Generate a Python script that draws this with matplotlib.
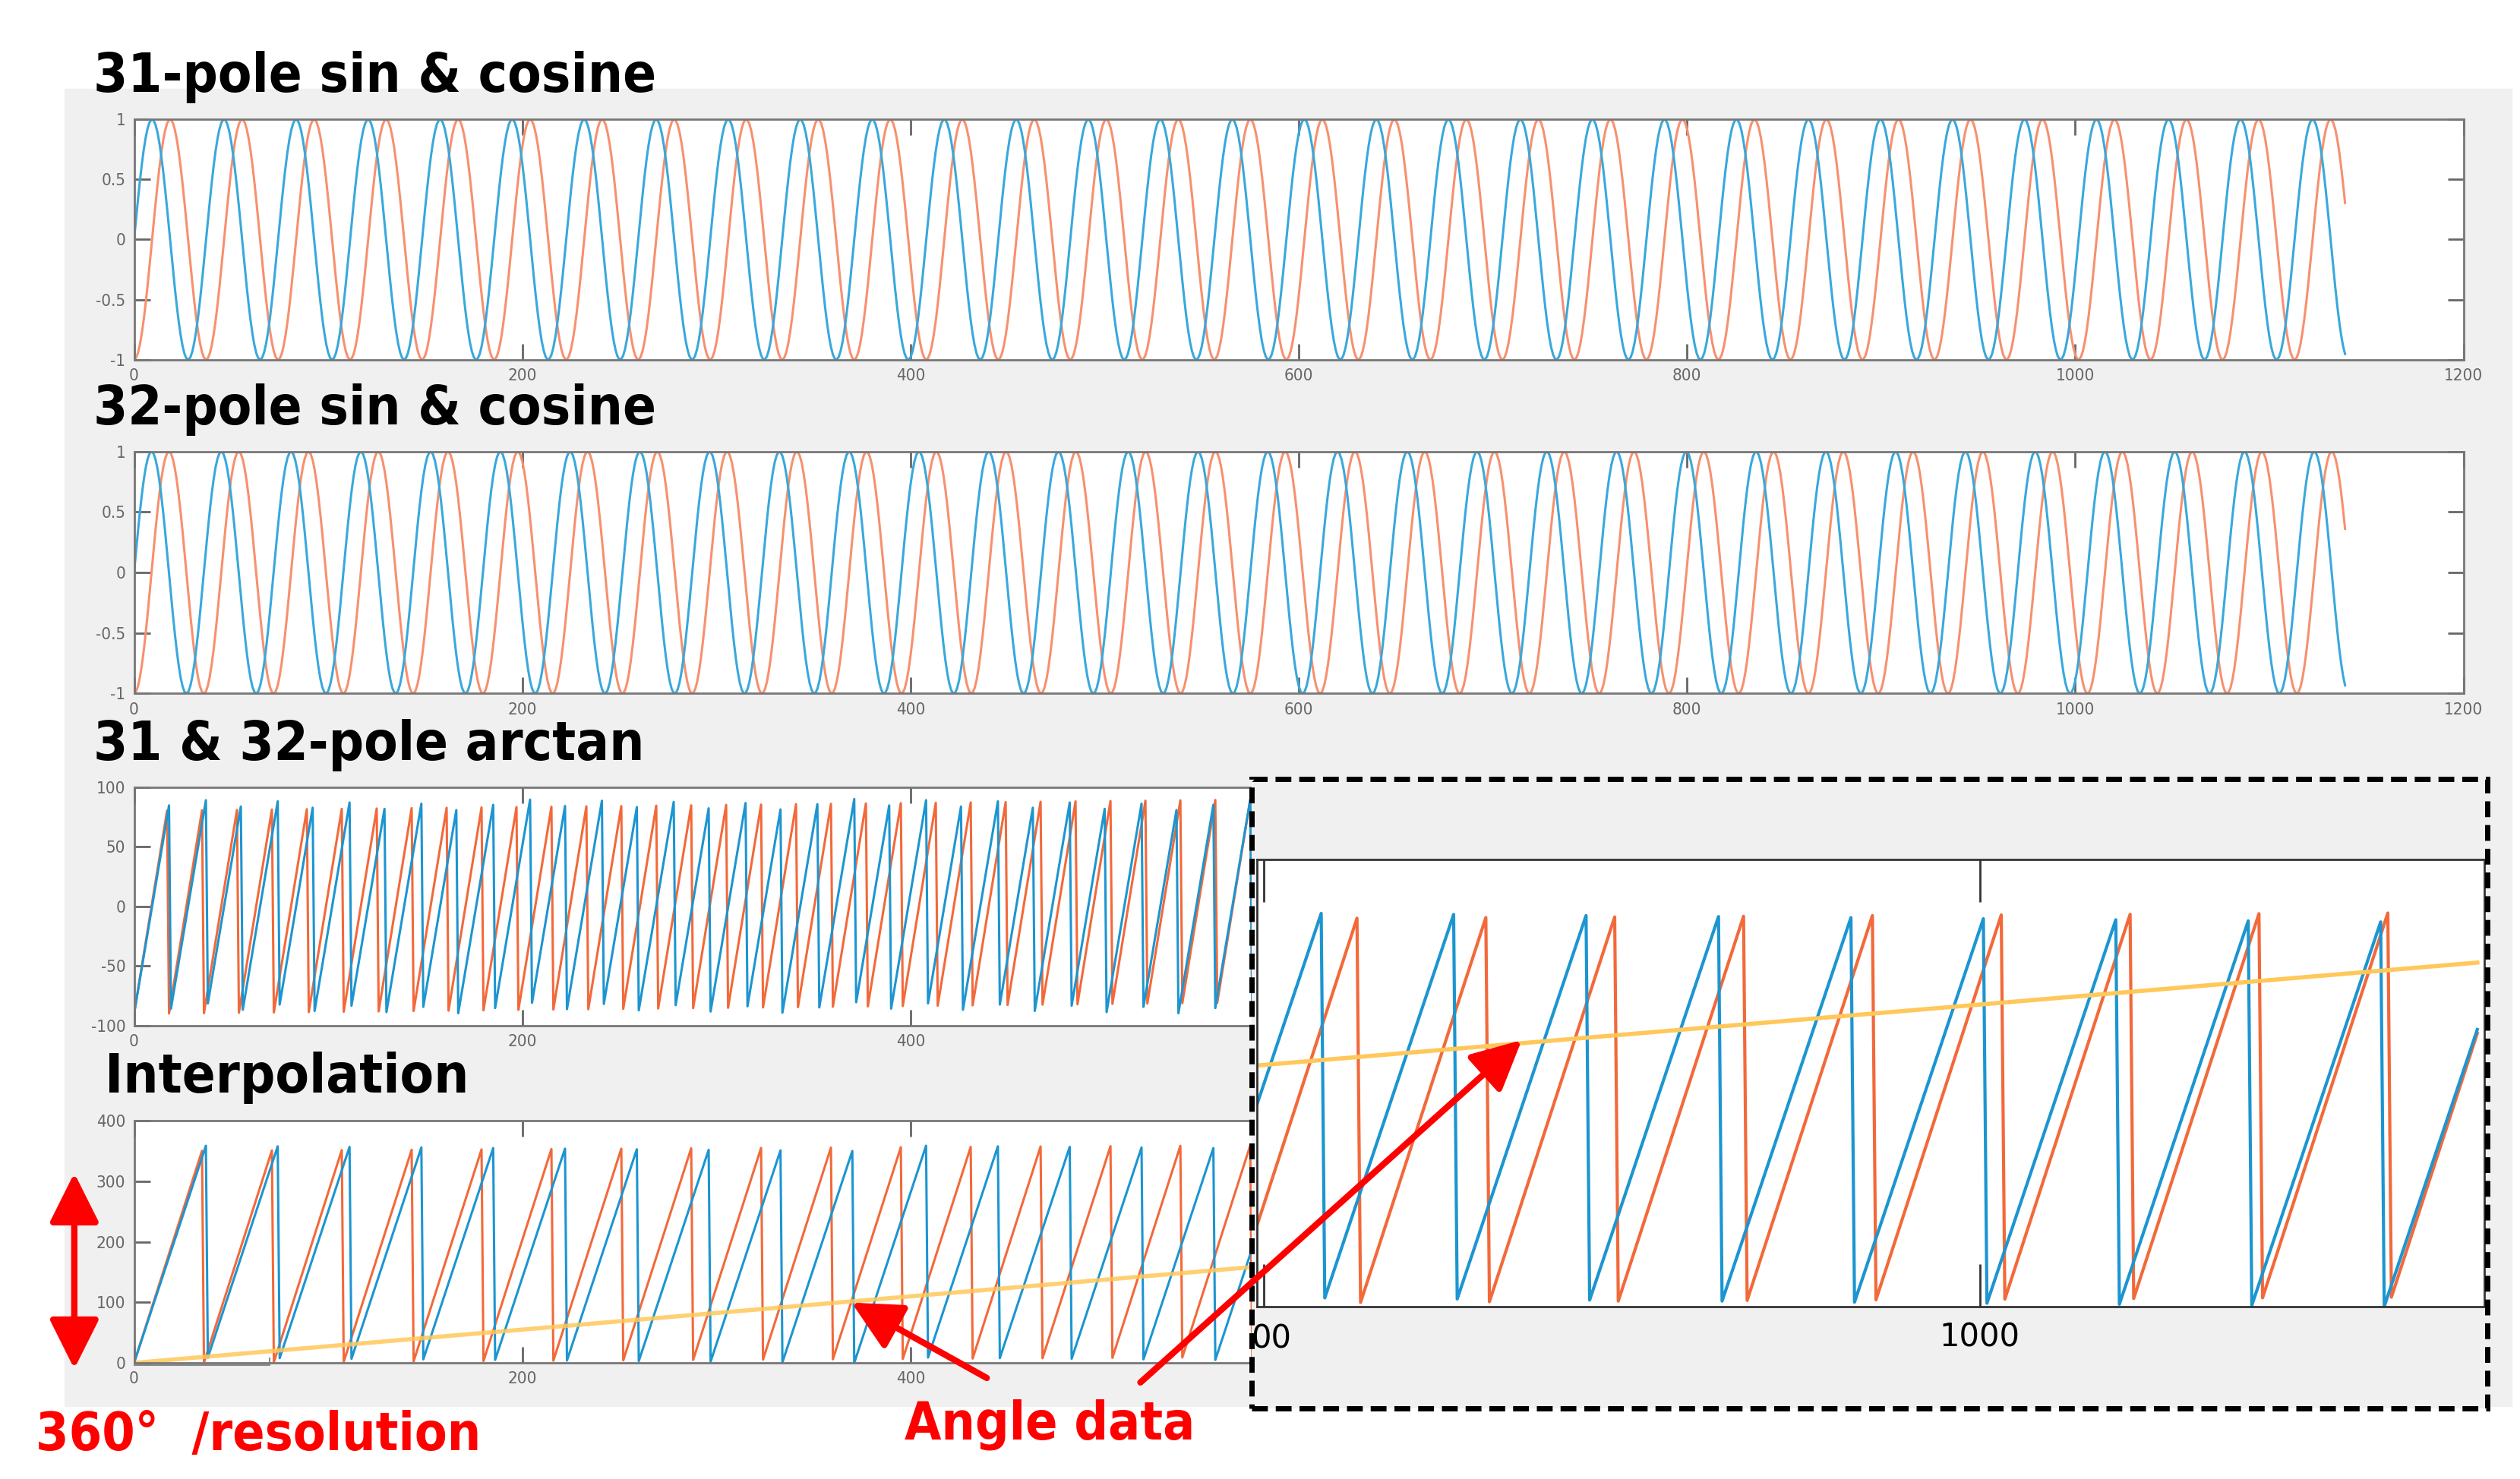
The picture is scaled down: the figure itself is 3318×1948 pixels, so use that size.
import numpy as np
import matplotlib
matplotlib.use('Agg')
import matplotlib.pyplot as plt
from matplotlib.patches import Rectangle, FancyArrowPatch

# ---- data (signal parameters) ----
n_samples = 1140          # samples recorded
period_31 = 37.1          # samples per electrical cycle, 31-pole track
period_32 = 37.1 * 31 / 32  # 32-pole track
angle_slope = 0.275       # mechanical angle (deg) per sample
x_ticks = [0, 200, 400, 600, 800, 1000, 1200]
sin_ticks = [-1, -0.5, 0, 0.5, 1]
atan_ticks = [-100, -50, 0, 50, 100]
interp_ticks = [0, 100, 200, 300, 400]
inset_xlim = (798, 1141)
inset_ylim = (0, 407)

titles = ['31-pole sin & cosine', '32-pole sin & cosine',
          '31 & 32-pole arctan', 'Interpolation']

BLUE_L, ORANGE_L = '#39a8dc', '#f7906e'
BLUE, ORANGE = '#1c95d0', '#f2693a'
YELLOW = '#ffc85a'
NARROW = ['Liberation Sans Narrow', 'DejaVu Sans']

x = np.arange(n_samples)
ph31 = 2 * np.pi * x / period_31
ph32 = 2 * np.pi * x / period_32

W, H = 1560.0, 917.0


def box(x0, y0, x1, y1):
    return [x0 / W, 1 - y1 / H, (x1 - x0) / W, (y1 - y0) / H]


fig = plt.figure(figsize=(33.18, 19.48), dpi=100)
fig.patch.set_facecolor('white')
fig.add_artist(Rectangle((40 / W, 1 - 872 / H), 1515 / W, 817 / H,
                         transform=fig.transFigure, color='#f0f0f0', zorder=-5))


def style(ax, yt, xt=x_ticks, fs=16):
    ax.set_facecolor('white')
    for s in ax.spines.values():
        s.set_color('#777777')
        s.set_linewidth(2)
    ax.tick_params(direction='in', length=15, width=2, color='#666666',
                   top=True, right=True, labelsize=fs, labelcolor='#666666', pad=8)
    ax.set_xticks(xt)
    ax.set_yticks(yt)
    ax.set_yticklabels([f'{v:g}' for v in yt], family=NARROW, stretch='condensed')
    ax.set_xticklabels([f'{v:g}' for v in xt], family=NARROW, stretch='condensed')


# sin & cosine panels
for ph, y0, y1 in [(ph31, 74, 223), (ph32, 280, 430)]:
    ax = fig.add_axes(box(83, y0, 1525, y1))
    ax.plot(x, -np.cos(ph), color=ORANGE_L, lw=2.2)
    ax.plot(x, np.sin(ph), color=BLUE_L, lw=2.2)
    ax.set_xlim(0, 1200)
    ax.set_ylim(-1, 1)
    style(ax, sin_ticks)

# arctan panel
ax3 = fig.add_axes(box(83, 488, 1525, 636))
ax3.plot(x, np.degrees(np.arctan(np.tan(ph32 - np.pi / 2))), color=ORANGE, lw=2.2)
ax3.plot(x, np.degrees(np.arctan(np.tan(ph31 - np.pi / 2))), color=BLUE, lw=2.2)
ax3.set_xlim(0, 1200)
ax3.set_ylim(-100, 100)
style(ax3, atan_ticks)

# interpolation panel
saw31 = np.degrees(ph31) % 360
saw32 = np.degrees(ph32) % 360
angle = angle_slope * x
ax4 = fig.add_axes(box(83, 695, 1525, 845))
ax4.plot(x, saw32, color=ORANGE, lw=2.2)
ax4.plot(x, saw31, color=BLUE, lw=2.2)
ax4.plot(x, angle, color=YELLOW, lw=4, alpha=0.85)
ax4.plot([0, 70, 70], [-4, -4, 8], color='#888888', lw=1.5, clip_on=False)
ax4.set_xlim(0, 1200)
ax4.set_ylim(0, 400)
style(ax4, interp_ticks)

# zoomed inset
fig.add_artist(Rectangle((775 / W, 1 - 873 / H), 765 / W, 390 / H,
                         transform=fig.transFigure, facecolor='#f0f0f0',
                         edgecolor='none', zorder=5))
axi = fig.add_axes(box(778, 533, 1538, 810))
axi.set_zorder(6)
axi.plot(x, saw32, color=ORANGE, lw=3)
axi.plot(x, saw31, color=BLUE, lw=3)
axi.plot(x, angle, color=YELLOW, lw=4)
axi.set_xlim(*inset_xlim)
axi.set_ylim(*inset_ylim)
for s in axi.spines.values():
    s.set_color('#333333')
    s.set_linewidth(2)
axi.tick_params(direction='in', length=40, width=2, color='#333333',
                top=True, labelsize=30, pad=14)
axi.set_xticks([800, 1000])
axi.set_xticklabels(['', '1000'])
axi.set_yticks([])
fig.text(787 / W, 1 - 830 / H, '00', fontsize=30, ha='center', va='center', zorder=7)
fig.add_artist(Rectangle((775 / W, 1 - 873 / H), 765 / W, 390 / H,
                         transform=fig.transFigure, fill=False, edgecolor='black',
                         lw=5, linestyle=(0, (3, 1.5)), zorder=8))

# titles
for t, (tx, ty) in zip(titles, [(58, 48), (58, 254), (58, 462), (65, 668)]):
    fig.text(tx / W, 1 - ty / H, t, fontsize=52, fontweight='bold',
             family=NARROW, stretch='condensed', va='center', ha='left')

# red annotations
RED = '#ff0000'
fig.text(22 / W, 1 - 890 / H, '360°  /resolution', color=RED, fontsize=50,
         fontweight='bold', family=NARROW, stretch='condensed', va='center')
fig.text(560 / W, 1 - 883 / H, 'Angle data', color=RED, fontsize=50,
         fontweight='bold', family=NARROW, stretch='condensed', va='center')
head = 'head_length=20,head_width=10'
fig.add_artist(FancyArrowPatch(
    (46 / W, 1 - 850 / H), (46 / W, 1 - 726 / H), transform=fig.transFigure,
    arrowstyle='<|-|>,' + head, color=RED, lw=6, mutation_scale=2, zorder=9))
fig.add_artist(FancyArrowPatch(
    (612 / W, 1 - 855 / H), (526 / W, 1 - 807 / H), transform=fig.transFigure,
    arrowstyle='-|>,' + head, color=RED, lw=6, mutation_scale=2, zorder=9))
fig.add_artist(FancyArrowPatch(
    (705 / W, 1 - 858 / H), (943 / W, 1 - 644 / H), transform=fig.transFigure,
    arrowstyle='-|>,' + head, color=RED, lw=6, mutation_scale=2, zorder=9))

fig.savefig('out.png', dpi=100)
